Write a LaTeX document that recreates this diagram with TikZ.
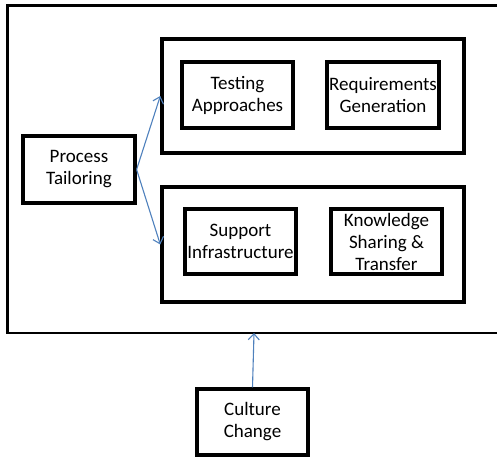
\documentclass[tikz,border=0pt]{standalone}
\usepackage{fontspec}
\setmainfont{Carlito}
\usetikzlibrary{arrows.meta}
\definecolor{arrowblue}{RGB}{79,129,189}
\tikzset{
  box/.style={draw=black, line width=3.2pt, rectangle, inner sep=0pt, align=center,
    font=\fontsize{19}{22}\selectfont},
  container/.style={draw=black, line width=3.4pt, rectangle, inner sep=0pt},
  link/.style={draw=arrowblue, line width=1.1pt, -{Straight Barb[length=6pt,width=11pt]}}
}
\begin{document}
\begin{tikzpicture}[x=1pt,y=-1pt]
\clip (0,0) rectangle (497,456);
\fill[white] (0,0) rectangle (497,456);
% outer frame (right side runs off the picture)
\draw[line width=3pt] (510,5) -- (7,5) -- (7,333);
\draw[line width=2.4pt] (5.8,333) -- (510,333);
\coordinate (outerbottom) at (254,333);
% containers
\node[container, minimum width=302pt, minimum height=114pt] (top) at (313,96) {};
\node[container, minimum width=302pt, minimum height=115pt] (bottom) at (313,244.5) {};
% boxes
\node[box, minimum width=112pt, minimum height=67pt] (proc) at (79,169.5) {Process\\Tailoring};
\node[box, minimum width=111pt, minimum height=66pt] (test) at (237.5,95) {Testing\\Approaches};
\node[box, minimum width=112pt, minimum height=66pt] (req) at (383,95) {Requirements\\Generation};
\node[box, minimum width=111pt, minimum height=65pt] (supp) at (240.5,241.5) {Support\\Infrastructure};
\node[box, minimum width=111pt, minimum height=65pt] (know) at (386.5,241.5) {Knowledge\\Sharing \&\\Transfer};
\node[box, minimum width=111pt, minimum height=66pt] (cult) at (252.5,422) {Culture\\Change};
% connectors
\draw[link] (proc.east) -- (top.west);
\draw[link] (proc.east) -- (bottom.west);
\draw[link] (cult.north) -- (outerbottom);
\end{tikzpicture}
\end{document}
